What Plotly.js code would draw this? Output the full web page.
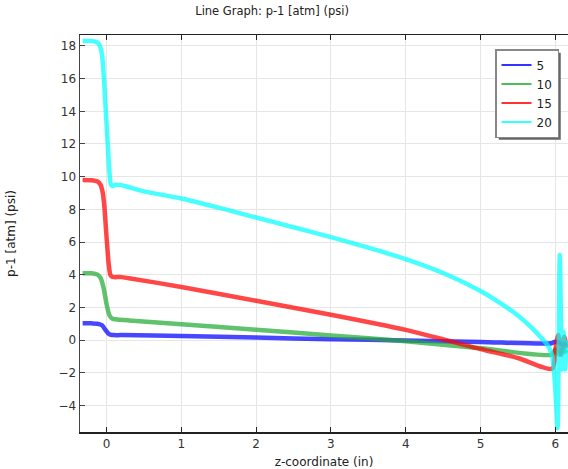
<!DOCTYPE html>
<html>
<head>
<meta charset="utf-8">
<script src="https://cdn.plot.ly/plotly-3.0.1.min.js"></script>
<style>html,body{margin:0;padding:0;background:#fff;}#chart{width:568px;height:469px;}</style>
</head>
<body>
<div id="chart"></div>
<script>
// Series labels
const seriesNames = ["5", "10", "15", "20"];
const seriesColors = ["#0000ff", "#22aa33", "#ff0000", "#00ffff"];

// Series 5
const z5 = [-0.32, -0.2, -0.12, -0.06, -0.02, 0.02, 0.06, 0.1, 0.2, 1, 2, 3, 4, 5, 5.95, 6.0, 6.05, 6.1, 6.15];
const p5 = [1.02, 1.02, 1.0, 0.9, 0.65, 0.42, 0.32, 0.3, 0.3, 0.25, 0.15, 0.05, -0.03, -0.12, -0.2, -0.1, -0.15, -0.3, -0.2];

// Series 10
const z10 = [-0.32, -0.2, -0.12, -0.08, -0.04, 0, 0.04, 0.08, 0.12, 0.3, 1, 2, 3, 4, 5, 5.95, 6.0, 6.05, 6.1, 6.15];
const p10 = [4.08, 4.08, 4.0, 3.8, 3.2, 2.2, 1.5, 1.3, 1.27, 1.2, 0.97, 0.63, 0.28, -0.08, -0.5, -0.9, -0.6, -0.9, -0.5, -0.8];

// Series 15
const z15 = [-0.32, -0.2, -0.12, -0.08, -0.05, -0.03, 0, 0.03, 0.05, 0.07, 0.1, 0.2, 0.3, 1, 2, 3, 4, 5, 5.5, 5.96, 6.0, 6.04, 6.08, 6.12, 6.15];
const p15 = [9.8, 9.78, 9.7, 9.5, 9.0, 8.2, 6.3, 4.6, 4.0, 3.88, 3.85, 3.85, 3.78, 3.25, 2.4, 1.55, 0.62, -0.55, -1.1, -1.75, -0.6, 0.3, -0.9, 0.2, -0.5];

// Series 20
const z20 = [-0.32, -0.2, -0.14, -0.1, -0.07, -0.05, -0.02, 0.01, 0.04, 0.06, 0.08, 0.12, 0.2, 0.3, 0.5, 1, 1.5, 2, 2.5, 3, 3.5, 4, 4.5, 5, 5.25, 5.5, 5.69, 5.8, 5.91, 5.96, 6.0, 6.03, 6.06, 6.09, 6.11, 6.13, 6.15];
const p20 = [18.3, 18.3, 18.25, 18.1, 17.7, 17.0, 14.8, 12.5, 10.2, 9.5, 9.42, 9.5, 9.48, 9.35, 9.1, 8.66, 8.1, 7.5, 6.9, 6.3, 5.65, 4.95, 4.1, 3.0, 2.3, 1.5, 0.73, 0.2, -0.4, -1.0, -3.0, -5.4, 5.2, -1.8, 0.5, -1.8, 0];

const xs = [z5, z10, z15, z20];
const ys = [p5, p10, p15, p20];

const traces = xs.map((x, i) => ({
  x: x, y: ys[i], type: "scatter", mode: "lines", name: seriesNames[i],
  line: {color: seriesColors[i], width: 4.5, shape: "spline", smoothing: 0.7},
  opacity: 0.72, showlegend: false
}));
// legend entries drawn with thinner lines, as in the reference
const legendTraces = seriesNames.map((n, i) => ({
  x: [null], y: [null], type: "scatter", mode: "lines", name: n,
  line: {color: seriesColors[i], width: 2}, opacity: 0.8, showlegend: true
}));

const px2x = p => (p - 80) / 488;
const px2y = p => 1 - (p - 35) / 397;

const layout = {
  width: 568, height: 469,
  margin: {l: 80, r: 0, t: 35, b: 37},
  paper_bgcolor: "#fff", plot_bgcolor: "#fff",
  font: {family: "DejaVu Sans, sans-serif", size: 12, color: "#333"},
  title: {text: "Line Graph: p-1 [atm] (psi)", font: {size: 11.5, color: "#222"},
          xref: "container", x: 0.479, xanchor: "center", yref: "container", y: 0.977, yanchor: "middle"},
  xaxis: {
    range: [-0.355, 6.17], tickvals: [0, 1, 2, 3, 4, 5, 6],
    showgrid: true, gridcolor: "#e6e6e6", zeroline: false,
    showline: true, linecolor: "#222", linewidth: 1.5, mirror: "ticks",
    ticks: "inside", ticklen: 5, tickcolor: "#222",
    tickfont: {size: 12, color: "#333"},
    title: {text: "z-coordinate (in)", font: {size: 12, color: "#222"}, standoff: 8}
  },
  yaxis: {
    range: [-5.63, 18.67], tickvals: [-4, -2, 0, 2, 4, 6, 8, 10, 12, 14, 16, 18],
    showgrid: true, gridcolor: "#e6e6e6", zeroline: false,
    showline: true, linecolor: "#444", linewidth: 1.5,
    ticks: "inside", ticklen: 5, tickcolor: "#444",
    tickfont: {size: 12, color: "#333"},
    title: {text: "p-1 [atm] (psi)", font: {size: 12, color: "#222"}, standoff: 40}
  },
  showlegend: true,
  legend: {
    x: px2x(495), y: px2y(49), xanchor: "left", yanchor: "top",
    bgcolor: "#fff", bordercolor: "#888", borderwidth: 1.5,
    font: {size: 12, color: "#222"}, itemwidth: 30, tracegroupgap: 0
  },
  shapes: []
};

Plotly.newPlot("chart", traces.concat(legendTraces), layout, {displayModeBar: false, staticPlot: true}).then(gd => {
  // place a drop shadow just behind the legend box
  const bg = gd.querySelector(".legend .bg");
  if (!bg) return;
  const r = bg.getBoundingClientRect();
  const c = gd.getBoundingClientRect();
  const l = r.left - c.left, t = r.top - c.top;
  Plotly.relayout(gd, {shapes: [{
    type: "rect", xref: "paper", yref: "paper",
    x0: px2x(l + 3), x1: px2x(l + r.width + 2.5), y0: px2y(t + r.height + 2.5), y1: px2y(t + 3),
    fillcolor: "#666", line: {width: 0}, layer: "above"
  }]});
});
</script>
</body>
</html>
